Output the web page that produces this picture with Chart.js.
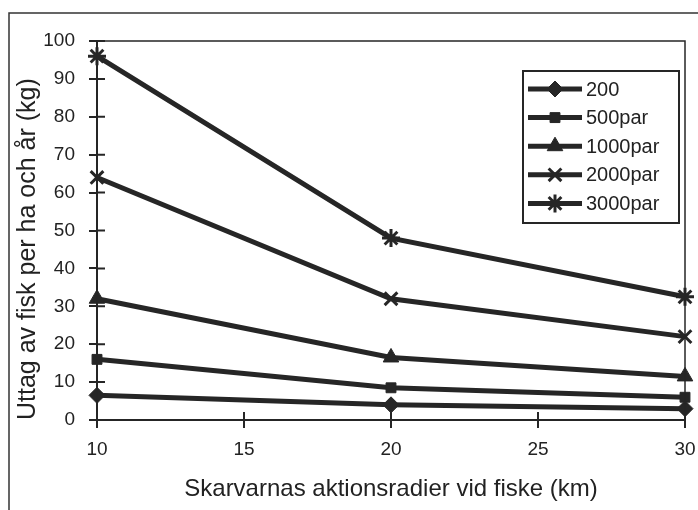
<!DOCTYPE html>
<html>
<head>
<meta charset="utf-8">
<script src="https://cdn.jsdelivr.net/npm/chart.js@4"></script>
<style>
  html, body { margin: 0; padding: 0; background: #fff; }
  #wrap { width: 698px; height: 510px; }
</style>
</head>
<body>
<div id="wrap"><canvas id="fish-chart" width="698" height="510"></canvas></div>
<script>
//data
const radii = [10, 20, 30];
const seriesLabels = ["200", "500par", "1000par", "2000par", "3000par"];
const values200 = [6.5, 4, 3];
const values500 = [16, 8.5, 6];
const values1000 = [32, 16.5, 11.5];
const values2000 = [64, 32, 22];
const values3000 = [96, 48, 32.5];
const xTitle = "Skarvarnas aktionsradier vid fiske (km)";
const yTitle = "Uttag av fisk per ha och år (kg)";

const ink = "#262626";
const font = "'Liberation Sans', Arial, sans-serif";
const markers = ["rectRot", "rect", "triangle", "crossRot", "star"];
const markerSize = [8, 7, 9, 9, 9];
const allValues = [values200, values500, values1000, values2000, values3000];

let datasets = allValues.map((vals, i) => ({
	label: seriesLabels[i],
	data: vals.map((v, j) => ({ x: radii[j], y: v })),
	borderColor: ink,
	backgroundColor: ink,
	borderWidth: 5,
	pointStyle: markers[i],
	pointRadius: markerSize[i],
	pointBorderWidth: markers[i] == "crossRot" || markers[i] == "star" ? 3 : 1,
	pointBorderColor: ink,
	pointBackgroundColor: ink,
	tension: 0,
	clip: false,
}));

//outer frame, plot frame and the inner half of the tick marks
const framePlugin = {
	id: "frame",
	beforeDraw(chart) {
		let ctx = chart.ctx;
		ctx.save();
		ctx.strokeStyle = "#333";
		ctx.lineWidth = 1.5;
		ctx.beginPath();
		ctx.moveTo(9, 520);
		ctx.lineTo(9, 13);
		ctx.lineTo(710, 13);
		ctx.stroke();
		ctx.restore();
	},
	afterDatasetsDraw(chart) {
		let ctx = chart.ctx;
		let a = chart.chartArea;
		let xs = chart.scales.x;
		let ys = chart.scales.y;
		ctx.save();
		ctx.strokeStyle = ink;
		ctx.lineWidth = 1.5;
		ctx.strokeRect(a.left, a.top, a.right - a.left, a.bottom - a.top);
		ctx.lineWidth = 2;
		ctx.beginPath();
		ys.ticks.forEach((t) => {
			let y = ys.getPixelForValue(t.value);
			ctx.moveTo(a.left, y);
			ctx.lineTo(a.left + 8, y);
		});
		xs.ticks.forEach((t) => {
			let x = xs.getPixelForValue(t.value);
			ctx.moveTo(x, a.bottom);
			ctx.lineTo(x, a.bottom - 8);
		});
		ctx.stroke();
		ctx.restore();
	},
	afterDraw(chart) {
		//legend box with line + marker samples
		let ctx = chart.ctx;
		ctx.save();
		ctx.fillStyle = "#fff";
		ctx.fillRect(523, 71, 156, 152);
		ctx.strokeStyle = ink;
		ctx.lineWidth = 2;
		ctx.strokeRect(523, 71, 156, 152);
		chart.data.datasets.forEach((ds, i) => {
			let y = 89 + i * 28.6;
			ctx.strokeStyle = ink;
			ctx.lineWidth = 5;
			ctx.beginPath();
			ctx.moveTo(528, y);
			ctx.lineTo(582, y);
			ctx.stroke();
			ctx.fillStyle = ink;
			ctx.strokeStyle = ink;
			ctx.lineWidth = ds.pointBorderWidth;
			Chart.helpers.drawPoint(ctx, {
				pointStyle: ds.pointStyle,
				radius: ds.pointRadius,
				rotation: 0,
				borderWidth: ds.pointBorderWidth,
			}, 555, y);
			ctx.fillStyle = "#222";
			ctx.font = "20px " + font;
			ctx.textBaseline = "middle";
			ctx.fillText(ds.label, 586, y + 1);
		});
		ctx.restore();
	},
};

$ = (s) => document.querySelector(s);
let fishChart = new Chart($("#fish-chart"), {
	type: "line",
	data: { datasets: datasets },
	plugins: [framePlugin],
	options: {
		responsive: false,
		animation: false,
		events: [],
		layout: { padding: { left: 9, top: 41, right: 13, bottom: 2 } },
		plugins: { legend: { display: false }, tooltip: { enabled: false } },
		scales: {
			x: {
				type: "linear",
				min: 10,
				max: 30,
				ticks: { stepSize: 5, color: "#222", font: { family: font, size: 19 }, padding: 10, maxRotation: 0 },
				grid: { drawOnChartArea: false, tickLength: 8, color: ink, lineWidth: 2 },
				border: { color: ink, width: 2 },
				title: { display: true, text: xTitle, color: "#222", font: { family: font, size: 24 }, padding: { top: 6 } },
				afterFit(scale) {
					scale.height = 88;
					scale.paddingRight = 0;
					scale.paddingLeft = 0;
				},
			},
			y: {
				min: 0,
				max: 100,
				ticks: { stepSize: 10, color: "#222", font: { family: font, size: 19 }, padding: 14 },
				grid: { drawOnChartArea: false, tickLength: 8, color: ink, lineWidth: 2 },
				border: { color: ink, width: 2 },
				title: { display: true, text: yTitle, align: "start", color: "#222", font: { family: font, size: 25 }, padding: { bottom: 2 } },
				afterFit(scale) {
					scale.width = 88;
					scale.paddingTop = 0;
					scale.paddingBottom = 0;
				},
			},
		},
	},
});
</script>
</body>
</html>
